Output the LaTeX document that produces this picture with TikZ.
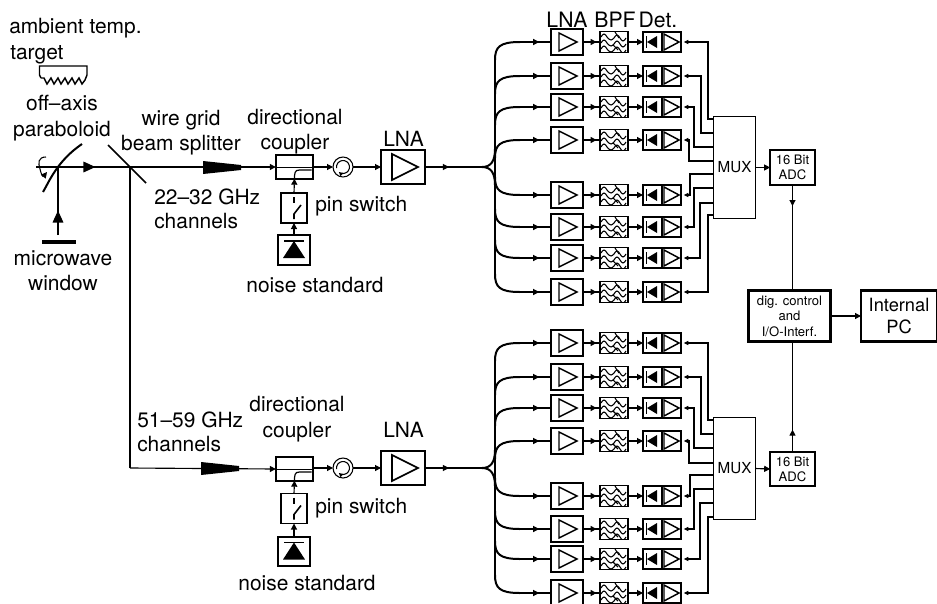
\documentclass[tikz,border=0pt]{standalone}
\usepackage{fontspec}
\setmainfont{TeX Gyre Heros}
\usetikzlibrary{arrows.meta, decorations.markings}

\begin{document}
\begin{tikzpicture}[x=0.75pt, y=-0.75pt, >={Triangle[length=4.5pt, width=4.5pt]},
  txt/.style={inner sep=0pt, anchor=base, font=\fontsize{15.7}{18}\selectfont},
  txtl/.style={txt, anchor=base west},
  hdr/.style={txt, font=\fontsize{15.9}{18}\selectfont},
  wire/.style={line width=0.85pt},
  bus/.style={line width=1.5pt},
  midtip/.style={postaction={decorate}, decoration={markings, mark=at position #1 with {\arrow{>}}}},
  bigtip/.style={postaction={decorate}, decoration={markings, mark=at position #1 with {\arrow{Triangle[length=9pt, width=8pt]}}}},
  block/.style={draw, inner sep=0pt, outer sep=0pt, line width=1.4pt, align=center},
  lnasmall/.style={block, minimum width=24pt, minimum height=19pt, path picture={
    \begin{scope}[shift={(path picture bounding box.center)}]
      \draw[line width=1.1pt] (-8,-9) -- (10,0) -- (-8,9) -- cycle;
    \end{scope}}},
  lnabig/.style={block, minimum width=33pt, minimum height=26pt, path picture={
    \begin{scope}[shift={(path picture bounding box.center)}]
      \draw[line width=1.2pt] (-11,-13) -- (15,0) -- (-11,13) -- cycle;
    \end{scope}}},
  bpf/.style={block, minimum width=21pt, minimum height=16pt, line width=1.1pt, path picture={
    \begin{scope}[shift={(path picture bounding box.center)}, line width=0.8pt]
      \foreach \dy in {-6,0,6} {
        \draw (-13,\dy+1) sin ++(3,-3) cos ++(3,3) sin ++(4,3) cos ++(3,-2)
          sin ++(3,-3) cos ++(3,3) sin ++(3,3) cos ++(3,-3);
      }
      \draw (1,-10) -- (5,-4);
      \draw (-1,3) -- (4,8);
    \end{scope}}},
  detbox/.style={block, minimum width=28.5pt, minimum height=15pt, path picture={
    \begin{scope}[shift={(path picture bounding box.center)}]
      \draw[line width=1.1pt] (0,-10) -- (0,10);
      \draw[line width=1.1pt] (-15.5,-6) -- (-15.5,6);
      \fill (-15,0) -- (-5,-6) -- (-5,6) -- cycle;
      \draw[line width=1.1pt] (2,-8) -- (17,0) -- (2,8) -- cycle;
    \end{scope}}},
  couplerbox/.style={block, minimum width=28pt, minimum height=17.5pt, path picture={
    \begin{scope}[shift={(path picture bounding box.center)}, line width=0.7pt]
      \draw (-19,0) -- (19,0);
      \draw[line width=0.9pt] (17,3) -- (5,3) .. controls (0,3) and (0,6) .. (0,13);
    \end{scope}}},
  pinbox/.style={block, minimum width=19.5pt, minimum height=22.5pt, path picture={
    \begin{scope}[shift={(path picture bounding box.center)}, line width=1.2pt]
      \draw (0,-11) -- (0,-5);
      \draw (7,-3) -- (0,6) -- (0,11);
    \end{scope}}},
  noisebox/.style={block, minimum width=24.5pt, minimum height=22pt, path picture={
    \begin{scope}[shift={(path picture bounding box.center)}]
      \draw[line width=1.3pt] (-10,-9) -- (10,-9);
      \fill (0,-9) -- (11,8) -- (-11,8) -- cycle;
    \end{scope}}},
  circbox/.style={draw, circle, inner sep=0pt, outer sep=0pt, minimum size=15pt, line width=0.8pt, path picture={
    \begin{scope}[shift={(path picture bounding box.center)}]
      \draw[line width=0.8pt, -{Triangle[length=3pt, width=3pt]}] (170:6.5) arc[start angle=170, end angle=490, radius=6.5];
    \end{scope}}},
  muxbox/.style={block, line width=0.8pt, minimum width=31pt, minimum height=77pt, font=\fontsize{11.4}{13}\selectfont},
  adcbox/.style={block, minimum width=33.5pt, minimum height=26pt, font=\fontsize{9.8}{11.2}\selectfont},
  ctrlbox/.style={block, line width=2.2pt, minimum width=62pt, minimum height=38pt, font=\fontsize{9.8}{11.6}\selectfont},
  pcbox/.style={block, line width=2.2pt, minimum width=57pt, minimum height=38pt, font=\fontsize{13.7}{15.8}\selectfont}]

  \useasboundingbox (0,0) rectangle (937,603);

  % optics on the left
  \coordinate (axisend) at (36,167);
  \coordinate (parab) at (58,167);
  \coordinate (split) at (130,167);
  \coordinate (winbar) at (58,235);
  \coordinate (corner) at (130,468);

  \node[txtl] (tamb) at (9,33) {ambient temp.};
  \node[txtl] (ttarget) at (10,59) {target};
  \node[txt] (toff) at (62,110) {off--axis};
  \node[txt] (tpara) at (62,136) {paraboloid};
  \node[txt] (tmicro) at (63,265) {microwave};
  \node[txt] (twin) at (63,290) {window};
  \node[txt] (twire) at (181,125) {wire grid};
  \node[txt] (tbeam) at (181,150) {beam splitter};
  \node[txtl] (tband1) at (154,204) {22--32 GHz};
  \node[txtl] (tchan1) at (154,228) {channels};

  % ambient target with its absorber teeth
  \draw[line width=1.1pt] (41,78) -- (39.5,75) -- (39.5,66) -- (87,66) -- (87,75) -- (85,80)
    -- (82,84) -- (79,78) -- (75,84) -- (72,78) -- (68,84) -- (65,78) -- (61,84) -- (58,78)
    -- (54,84) -- (51,78) -- (47,84) -- (44,78) -- (41,78);

  % mirror, splitter and window
  \draw[line width=1.5pt] (43,192) .. controls (49,182) and (57,161) .. (82,144);
  \draw[line width=1.2pt] (108,145) -- (146,183);
  \draw[line width=2.4pt] (42,242) -- (76,242);
  \draw[bus] (axisend) -- (parab);
  \draw[wire, bigtip=0.52] (parab) -- (split);
  \draw[wire, bigtip=0.36] (winbar) -- (parab);
  \draw[wire] (split) -- (corner);
  \draw[line width=0.8pt, ->] (46,157) .. controls (38,157) and (38,163) .. (40,169)
    .. controls (41,174) and (43,177) .. (47,172);

  % front ends of both bands
  \foreach \n/\y/\yc/\ypin/\yns/\ylna/\yptxt/\ynstxt/\xns in
    {1/167/167/208/250/146/211/292/315, 2/468/469/508.5/551.5/437/513/590/307} {
    \node[couplerbox] (coup\n) at (294.5,\yc) {};
    \node[circbox] (circ\n) at (343,\y) {};
    \node[lnabig] (lna\n) at (403,\y) {};
    \node[pinbox] (pin\n) at (294,\ypin) {};
    \node[noisebox] (ns\n) at (294,\yns) {};
    \node[txt] (tlna\n) at (403.5,\ylna) {LNA};
    \node[txtl] (tpin\n) at (315,\yptxt) {pin switch};
    \node[txt] (tns\n) at (\xns,\ynstxt) {noise standard};
    \coordinate (fan\n) at (482,\y);

    \draw[wire, ->] (coup\n.east |- circ\n) -- (circ\n.west);
    \draw[wire, ->] (circ\n.east) -- (lna\n.west);
    \draw[wire, midtip=0.42] (lna\n.east) -- (fan\n);
    \draw[bus] (440,\y) -- (fan\n);
    \draw[wire, ->] (pin\n.north) -- (coup\n.south);
    \draw[wire, ->] (ns\n.north) -- (pin\n.south);
  }

  \node[txt] (tdir1) at (295,124) {directional};
  \node[txt] (tcoup1) at (295,149) {coupler};
  \node[txt] (tdir2) at (297,411) {directional};
  \node[txt] (tcoup2) at (297,437) {coupler};
  \node[txtl] (tband2) at (137,427) {51--59 GHz};
  \node[txtl] (tchan2) at (137,451) {channels};

  % beams with their tapered horns
  \draw[wire, ->] (split) -- (coup1.west);
  \draw[wire, ->] (corner) -- (coup2.west);
  \fill (203,161) -- (241,165) -- (241,170) -- (203,174) -- cycle;
  \fill (201,462) -- (239,466) -- (239,471) -- (201,475) -- cycle;

  % fan-out buses
  \foreach \n/\ya/\yb/\yc in {1/58/167/276, 2/359/468/577} {
    \draw[bus] (495,\ya) -- (495,\yc);
    \draw[bus] (495,\yb-18) .. controls (495,\yb-6) and (491,\yb) .. (fan\n);
    \draw[bus] (495,\yb+18) .. controls (495,\yb+6) and (491,\yb) .. (fan\n);
  }

  % multiplexers, converters and the controller
  \node[muxbox] (mux1) at (734.5,167.5) {MUX};
  \node[muxbox] (mux2) at (734.5,468.5) {MUX};
  \node[adcbox] (adc1) at (792.5,167.5) {16 Bit\\ADC};
  \node[adcbox] (adc2) at (792.5,469) {16 Bit\\ADC};
  \node[ctrlbox] (ctrl) at (789.5,316) {dig. control\\and\\I/O-Interf.};
  \node[pcbox] (pc) at (899,316) {Internal\\PC};

  \draw[wire, ->] (mux1.east) -- (adc1.west);
  \draw[wire, ->] (mux2.east) -- (adc2.west);
  \draw[wire, midtip=0.2] (adc1.south) -- (adc1.south |- ctrl.north);
  \draw[wire, midtip=0.2] (adc2.north) -- (adc2.north |- ctrl.south);
  \draw[wire, ->] (ctrl.east) -- (pc.west);

  % the sixteen detector channels
  \foreach \i/\y/\xv/\ym/\m/\dy in {
    1/42/708/119/1/18, 2/76/701/133/1/18, 3/107/694/147/1/18, 4/140/689/161/1/18,
    5/195/690/174/1/-18, 6/227/694/188/1/-18, 7/258/700/203/1/-18, 8/292/708/215/1/-18,
    9/343/708/420/2/18, 10/377/701/434/2/18, 11/408/694/448/2/18, 12/441/689/463/2/18,
    13/496/690/475/2/-18, 14/529/694/489/2/-18, 15/559/700/503/2/-18, 16/593/708/517/2/-18} {
    \node[lnasmall] (amp\i) at (567,\y) {};
    \node[bpf] (bpf\i) at (614,\y) {};
    \node[detbox] (det\i) at (662,\y) {};
    \coordinate (tap\i) at (520,\y);

    \draw[bus] (495,\y+\dy) .. controls (495,\y+0.3*\dy) and (499,\y) .. (tap\i);
    \draw[wire, midtip=0.62] (tap\i) -- (amp\i.west);
    \draw[wire, midtip=0.8] (amp\i.east) -- (bpf\i.west);
    \draw[wire, ->] (bpf\i.east) -- (det\i.west);
    \draw[wire, {Triangle[length=3.5pt, width=3pt]}-, shorten <=2pt] (det\i.east) -- (\xv,\y) -- (\xv,\ym) -- (mux\m.west |- 0,\ym);
  }

  \node[hdr] (thamp) at (567,27) {LNA};
  \node[hdr] (thbpf) at (615,27) {BPF};
  \node[hdr] (thdet) at (658,27) {Det.};

\end{tikzpicture}
\end{document}
